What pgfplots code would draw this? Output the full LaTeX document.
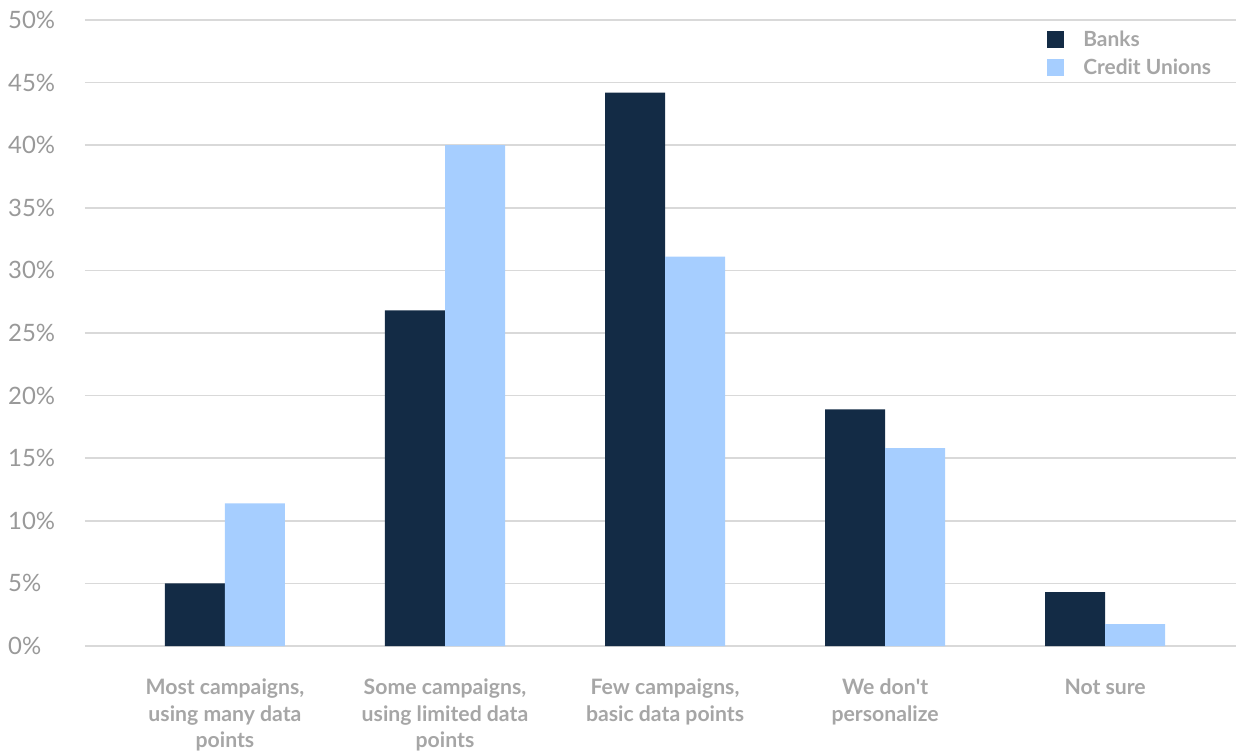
\documentclass[border=0pt]{standalone}
\usepackage{pgfplots}
\pgfplotsset{compat=1.18}
\usepackage{fontspec}
\setmainfont{Lato}
\definecolor{banks}{HTML}{132B45}
\definecolor{cu}{HTML}{A6CEFF}
\definecolor{gridc}{HTML}{D9D9D9}
\definecolor{tickc}{HTML}{999999}
\definecolor{labc}{HTML}{A6A6A6}
\begin{document}
\begin{tikzpicture}
\path[use as bounding box] (-85bp,-107bp) rectangle (1151bp,646bp);
\begin{axis}[
  scale only axis,
  width=1151bp, height=626bp,
  at={(0,0)}, anchor=south west,
  ybar, bar width=0.2727,
  xmin=-0.636, xmax=4.595,
  ymin=0, ymax=50,
  ytick={0,5,...,50},
  yticklabel={\pgfmathprintnumber{\tick}\%},
  /pgf/number format/assume math mode=true,
  yticklabel style={anchor=west, inner sep=0pt, xshift=-77bp, font=\fontsize{24}{28}\selectfont, text=tickc},
  xtick={0,1,2,3,4},
  xticklabels={{Most campaigns,\\using many data\\points},{Some campaigns,\\using limited data\\points},{Few campaigns,\\basic data points},{We don\textquotesingle t\\personalize},{Not sure}},
  xticklabel style={align=center, anchor=north, inner sep=0pt, yshift=-33bp, font=\fontsize{21.3}{26.5}\selectfont\bfseries, text=labc},
  major tick length=0pt,
  axis line style={draw=none},
  ymajorgrids, grid style={gridc, line width=1.5bp},
  legend style={draw=none, fill=none, inner sep=0pt, at={(0.8358,0.9824)}, anchor=north west,
    font=\fontsize{21}{22}\selectfont\bfseries, text=labc, row sep=11bp,
    nodes={inner sep=0pt}, cells={anchor=west}},
  legend image code/.code={\fill[#1,draw=none] (0bp,-8.5bp) rectangle (17bp,8.5bp); \path (36bp,0bp);},
]
\addplot[fill=banks, draw=none, bar shift=-0.13636] coordinates {(0,5.0) (1,26.8) (2,44.2) (3,18.9) (4,4.3)};
\addplot[fill=cu, draw=none, bar shift=0.13636] coordinates {(0,11.4) (1,40.0) (2,31.1) (3,15.8) (4,1.75)};
\legend{Banks,Credit Unions}
\end{axis}
\end{tikzpicture}
\end{document}
